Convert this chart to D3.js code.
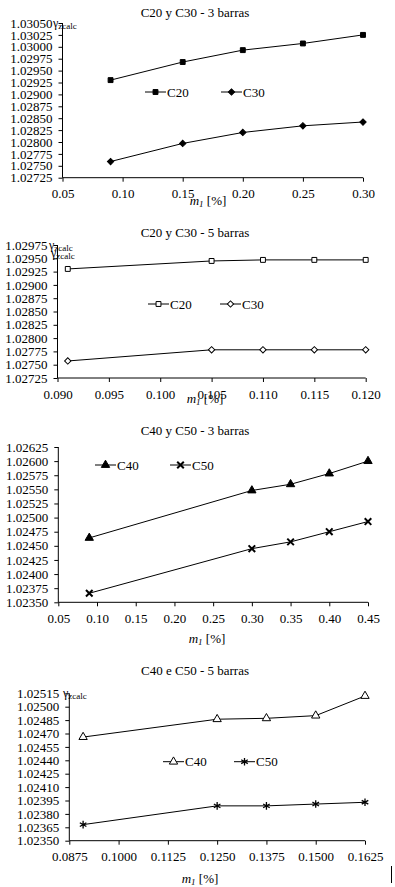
<!DOCTYPE html>
<html>
<head>
<meta charset="utf-8">
<script src="https://cdn.jsdelivr.net/npm/d3@7"></script>
<style>
  body { margin: 0; background: #fff; }
  svg text { font-family: "Liberation Serif", "Times New Roman", serif !important; fill: #000; }
</style>
</head>
<body>
<div class="chart"></div>
<script>
// chart 1 - C20 y C30 - 3 barras
const x1 = [0.09, 0.15, 0.20, 0.25, 0.30];
const c20_3 = [1.02930, 1.02968, 1.02993, 1.03007, 1.03025];
const c30_3 = [1.02759, 1.02797, 1.02820, 1.02834, 1.02842];

// chart 2 - C20 y C30 - 5 barras
const x2 = [0.091, 0.105, 0.110, 0.115, 0.120];
const c20_5 = [1.02930, 1.02945, 1.02947, 1.02947, 1.02947];
const c30_5 = [1.02757, 1.02778, 1.02778, 1.02778, 1.02778];

// chart 3 - C40 y C50 - 3 barras
const x3 = [0.09, 0.30, 0.35, 0.40, 0.45];
const c40_3 = [1.02464, 1.02548, 1.02559, 1.02578, 1.02600];
const c50_3 = [1.02366, 1.02445, 1.02457, 1.02475, 1.02493];

// chart 4 - C40 e C50 - 5 barras
const x4 = [0.091, 0.1250, 0.1375, 0.1500, 0.1625];
const c40_5 = [1.02466, 1.02486, 1.02487, 1.02490, 1.02512];
const c50_5 = [1.02368, 1.02389, 1.02389, 1.02391, 1.02393];

const titles = ["C20 y C30 - 3 barras", "C20 y C30 - 5 barras", "C40 y C50 - 3 barras", "C40 e C50 - 5 barras"];
const xTicks1 = [0.05, 0.10, 0.15, 0.20, 0.25, 0.30];
const xTicks2 = [0.090, 0.095, 0.100, 0.105, 0.110, 0.115, 0.120];
const xTicks3 = [0.05, 0.10, 0.15, 0.20, 0.25, 0.30, 0.35, 0.40, 0.45];
const xTicks4 = [0.0875, 0.1000, 0.1125, 0.1250, 0.1375, 0.1500, 0.1625];
const yTicks1 = [1.02725, 1.03050, 0.00025];
const yTicks2 = [1.02725, 1.02975, 0.00025];
const yTicks3 = [1.02350, 1.02625, 0.00025];
const yTicks4 = [1.02350, 1.02515, 0.00015];

const svg = d3.select(".chart").append("svg")
  .attr("width", 395)
  .attr("height", 887);

const charts = [
  {title: titles[0], x: x1, s: [c20_3, c30_3], names: ["C20", "C30"], xt: xTicks1, xf: ".2f", yt: yTicks1,
   box: {l: 62.5, r: 363, t: 23, b: 177.7}, titleY: 17, xTitle: {x: 208, y: 205},
   sym: ["sq", "dia"], fill: ["#000", "#000"], leg: [[145, 92], [221, 92]],
   ylab: [[53, 27]]},
  {title: titles[1], x: x2, s: [c20_5, c30_5], names: ["C20", "C30"], xt: xTicks2, xf: ".3f", yt: yTicks2,
   box: {l: 57.5, r: 365.7, t: 245, b: 378}, titleY: 237, xTitle: {x: 205, y: 403},
   sym: ["sq", "dia"], fill: ["#fff", "#fff"], leg: [[148, 304], [220, 304]],
   ylab: [[49, 249], [51, 257]]},
  {title: titles[2], x: x3, s: [c40_3, c50_3], names: ["C40", "C50"], xt: xTicks3, xf: ".2f", yt: yTicks3,
   box: {l: 58.3, r: 368, t: 447, b: 602.3}, titleY: 435, xTitle: {x: 207, y: 643},
   sym: ["tri", "times"], fill: ["#000", "#000"], leg: [[95, 465], [170, 465]],
   ylab: []},
  {title: titles[3], x: x4, s: [c40_5, c50_5], names: ["C40", "C50"], xt: xTicks4, xf: ".4f", yt: yTicks4,
   box: {l: 69.3, r: 365, t: 693.3, b: 840.7}, titleY: 675, xTitle: {x: 200, y: 883},
   sym: ["tri", "ast"], fill: ["#fff", "#000"], leg: [[163, 761.7], [234, 761.7]],
   ylab: [[63, 697]]}
];

const symbols = {
  sq: {type: d3.symbolSquare, size: 24, sw: 1, rot: 0},
  dia: {type: d3.symbolSquare, size: 20, sw: 1, rot: 45},
  tri: {type: d3.symbolTriangle, size: 30, sw: 1, rot: 0},
  times: {type: d3.symbolTimes, size: 30, sw: 2, rot: 0},
  ast: {type: d3.symbolAsterisk, size: 40, sw: 1.3, rot: 0}
};

function marker(g, key, fill, pos) {
  const s = symbols[key];
  const stroked = key === "times" || key === "ast";
  g.attr("transform", d => { const [px, py] = pos(d); return `translate(${px},${py}) rotate(${s.rot})`; })
    .attr("d", d3.symbol().type(s.type).size(s.size))
    .attr("fill", stroked ? "none" : fill)
    .attr("stroke", "#000")
    .attr("stroke-width", s.sw);
}

charts.forEach(c => {
  const b = c.box;
  const g = svg.append("g");

  const xScale = d3.scaleLinear()
    .domain([c.xt[0], c.xt[c.xt.length - 1]])
    .range([b.l, b.r]);

  const yScale = d3.scaleLinear()
    .domain([c.yt[0], c.yt[1]])
    .range([b.b, b.t]);

  const n = Math.round((c.yt[1] - c.yt[0]) / c.yt[2]);
  const yTickVals = d3.range(n + 1).map(i => c.yt[0] + i * c.yt[2]);

  const xAxis = d3.axisBottom(xScale)
    .tickValues(c.xt)
    .tickSize(4)
    .tickFormat(d3.format(c.xf));

  const yAxis = d3.axisLeft(yScale)
    .tickValues(yTickVals)
    .tickSize(4)
    .tickPadding(6)
    .tickFormat(d3.format(".5f"));

  g.append("g")
    .attr("transform", `translate(0, ${b.b})`)
    .call(xAxis)
    .attr("font-family", null)
    .call(g => g.select(".domain").attr("d", `M${b.l},0H${b.r}`).attr("stroke", "#000"))
    .call(g => g.selectAll(".tick text")
      .attr("font-size", 13)
      .attr("dy", "1.05em"));

  g.append("g")
    .attr("transform", `translate(${b.l}, 0)`)
    .call(yAxis)
    .attr("font-family", null)
    .call(g => g.select(".domain").attr("d", `M0,${b.t}V${b.b}`).attr("stroke", "#000"))
    .call(g => g.selectAll(".tick text")
      .attr("font-size", 13));

  g.append("text")
    .attr("x", 195)
    .attr("y", c.titleY)
    .attr("text-anchor", "middle")
    .attr("font-size", 13)
    .text(c.title);

  // x axis title: m1 [%]
  const xt = g.append("text")
    .attr("x", c.xTitle.x)
    .attr("y", c.xTitle.y)
    .attr("text-anchor", "middle")
    .attr("font-size", 13);
  xt.append("tspan").attr("font-style", "italic").text("m");
  xt.append("tspan").attr("font-style", "italic").attr("font-size", 9).attr("dy", 2).text("1");
  xt.append("tspan").attr("dy", -2).text(" [%]");

  // y axis label
  c.ylab.forEach(p => {
    const t = g.append("text")
      .attr("x", p[0])
      .attr("y", p[1])
      .attr("font-size", 12);
    t.append("tspan").text("γ");
    t.append("tspan").attr("font-size", 9).attr("dy", 2).text("zcalc");
  });

  const line = d3.line()
    .x(d => xScale(d[0]))
    .y(d => yScale(d[1]));

  c.s.forEach((vals, k) => {
    const pts = c.x.map((xv, i) => [xv, vals[i]]);

    g.append("path")
      .datum(pts)
      .attr("fill", "none")
      .attr("stroke", "#000")
      .attr("stroke-width", 1)
      .attr("d", line);

    g.selectAll(null)
      .data(pts)
      .enter()
      .append("path")
      .call(m => marker(m, c.sym[k], c.fill[k], d => [xScale(d[0]), yScale(d[1])]));

    // legend
    const [lx, ly] = c.leg[k];
    g.append("line")
      .attr("x1", lx).attr("x2", lx + 21)
      .attr("y1", ly).attr("y2", ly)
      .attr("stroke", "#000");
    g.append("path")
      .datum(0)
      .call(m => marker(m, c.sym[k], c.fill[k], () => [lx + 10.5, ly]));
    g.append("text")
      .attr("x", lx + 22)
      .attr("y", ly)
      .attr("dy", "0.35em")
      .attr("font-size", 13)
      .text(c.names[k]);
  });
});

// stray cursor mark at the bottom right
svg.append("line")
  .attr("x1", 391.5).attr("x2", 391.5)
  .attr("y1", 866).attr("y2", 883)
  .attr("stroke", "#000");
</script>
</body>
</html>
